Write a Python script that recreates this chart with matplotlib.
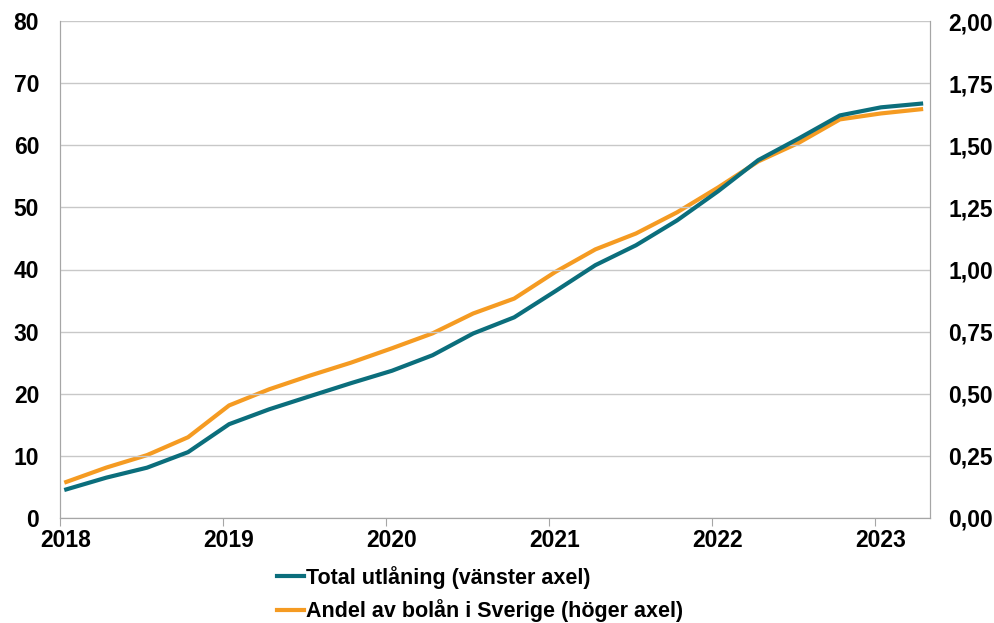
import pandas as pd
import matplotlib
matplotlib.use("Agg")
import matplotlib.pyplot as plt
import matplotlib.dates as mdates
from matplotlib.ticker import FuncFormatter
from matplotlib.transforms import ScaledTranslation

plt.rcParams["font.family"] = ["Liberation Sans", "DejaVu Sans"]
plt.rcParams["font.weight"] = "bold"

# quarterly observations, mid-month of Jan/Apr/Jul/Oct
dates = pd.date_range("2018-01-01", periods=22, freq="QS") + pd.Timedelta(days=14)

# total lending, left axis
total = [4.6, 6.5, 8.1, 10.6, 15.1, 17.5, 19.6, 21.7, 23.7, 26.2, 29.7, 32.3,
         36.5, 40.7, 43.9, 47.9, 52.6, 57.6, 61.1, 64.8, 66.1, 66.7]
# share of Swedish mortgages, right axis
share = [0.145, 0.203, 0.253, 0.325, 0.453, 0.518, 0.573, 0.625, 0.683, 0.743,
         0.823, 0.883, 0.99, 1.081, 1.145, 1.23, 1.33, 1.435, 1.51, 1.604,
         1.628, 1.645]

teal = "#0B6E7C"
orange = "#F59B22"
grey = "#A6A6A6"

fig = plt.figure(figsize=(9.94, 6.23), dpi=100)
ax = fig.add_axes([60 / 994, 105 / 623, 870 / 994, 497 / 623])
ax2 = ax.twinx()

l1, = ax.plot(dates, total, color=teal, lw=3, solid_joinstyle="miter")
l2, = ax2.plot(dates, share, color=orange, lw=3, solid_joinstyle="miter")
ax2.set_zorder(ax.get_zorder() - 1)
ax.patch.set_visible(False)

ax.set_ylim(0, 80)
ax2.set_ylim(0, 2)
ax.set_yticks(range(0, 81, 10))
ax2.set_yticks([i * 0.25 for i in range(9)])
ax2.yaxis.set_major_formatter(FuncFormatter(lambda v, p: f"{v:.2f}".replace(".", ",")))

ax.set_xlim(pd.Timestamp("2018-01-01"), pd.Timestamp("2023-05-05"))
ax.xaxis.set_major_locator(mdates.YearLocator())
ax.xaxis.set_major_formatter(mdates.DateFormatter("%Y"))

ax.grid(axis="y", color="#C8C8C8", lw=1)
ax.set_axisbelow(True)

for a in (ax, ax2):
    for s in a.spines.values():
        s.set_color(grey)
    a.spines["top"].set_visible(False)
    a.tick_params(axis="y", length=0, labelsize=16.5)
ax.tick_params(axis="y", pad=15)
ax2.tick_params(axis="y", pad=13)
ax.tick_params(axis="x", length=6, color=grey, labelsize=16.5, pad=2)

# year labels sit a little right of their ticks
shift = ScaledTranslation(6 / 100, 0, fig.dpi_scale_trans)
for lab in ax.get_xticklabels():
    lab.set_transform(lab.get_transform() + shift)

fig.legend([l1, l2], ["Total utlåning (vänster axel)", "Andel av bolån i Sverige (höger axel)"],
           loc="upper left", bbox_to_anchor=(268 / 994, 1 - 557 / 623), frameon=False,
           fontsize=15.5, handlelength=1.25, handletextpad=0.1, labelspacing=0.5,
           borderaxespad=0)

fig.savefig("out.png", dpi=100)
